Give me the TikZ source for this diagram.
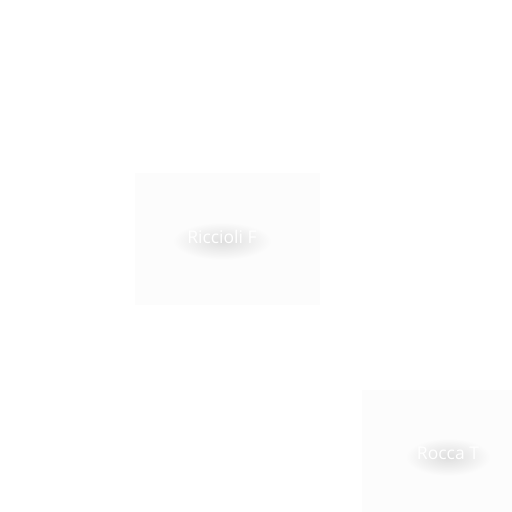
\documentclass[tikz,border=0pt]{standalone}
\usepackage{fontspec}
\setmainfont{Open Sans}
\tikzset{
  panel/.style = {fill=black!1, draw=none},
  namelabel/.style = {text=white, font=\fontsize{17.5}{19}\selectfont, inner sep=0pt},
  glow/.style = {inner color=black!13, outer color=black!1, draw=none}
}
\begin{document}
\begin{tikzpicture}[x=1pt, y=-1pt]
\useasboundingbox[fill=white] (0,0) rectangle (512,512);
% panels
\fill[panel] (135,173) rectangle (320,305);
\fill[panel] (362,390) rectangle (512,512);
% soft shadows
\shade[glow] (222,241) ellipse [x radius=50, y radius=19];
\shade[glow] (448,457) ellipse [x radius=43, y radius=19];
% names
\node[namelabel] (riccioli) at (222,237) {Riccioli F};
\node[namelabel] (rocca) at (448,453) {Rocca T};
\end{tikzpicture}
\end{document}
